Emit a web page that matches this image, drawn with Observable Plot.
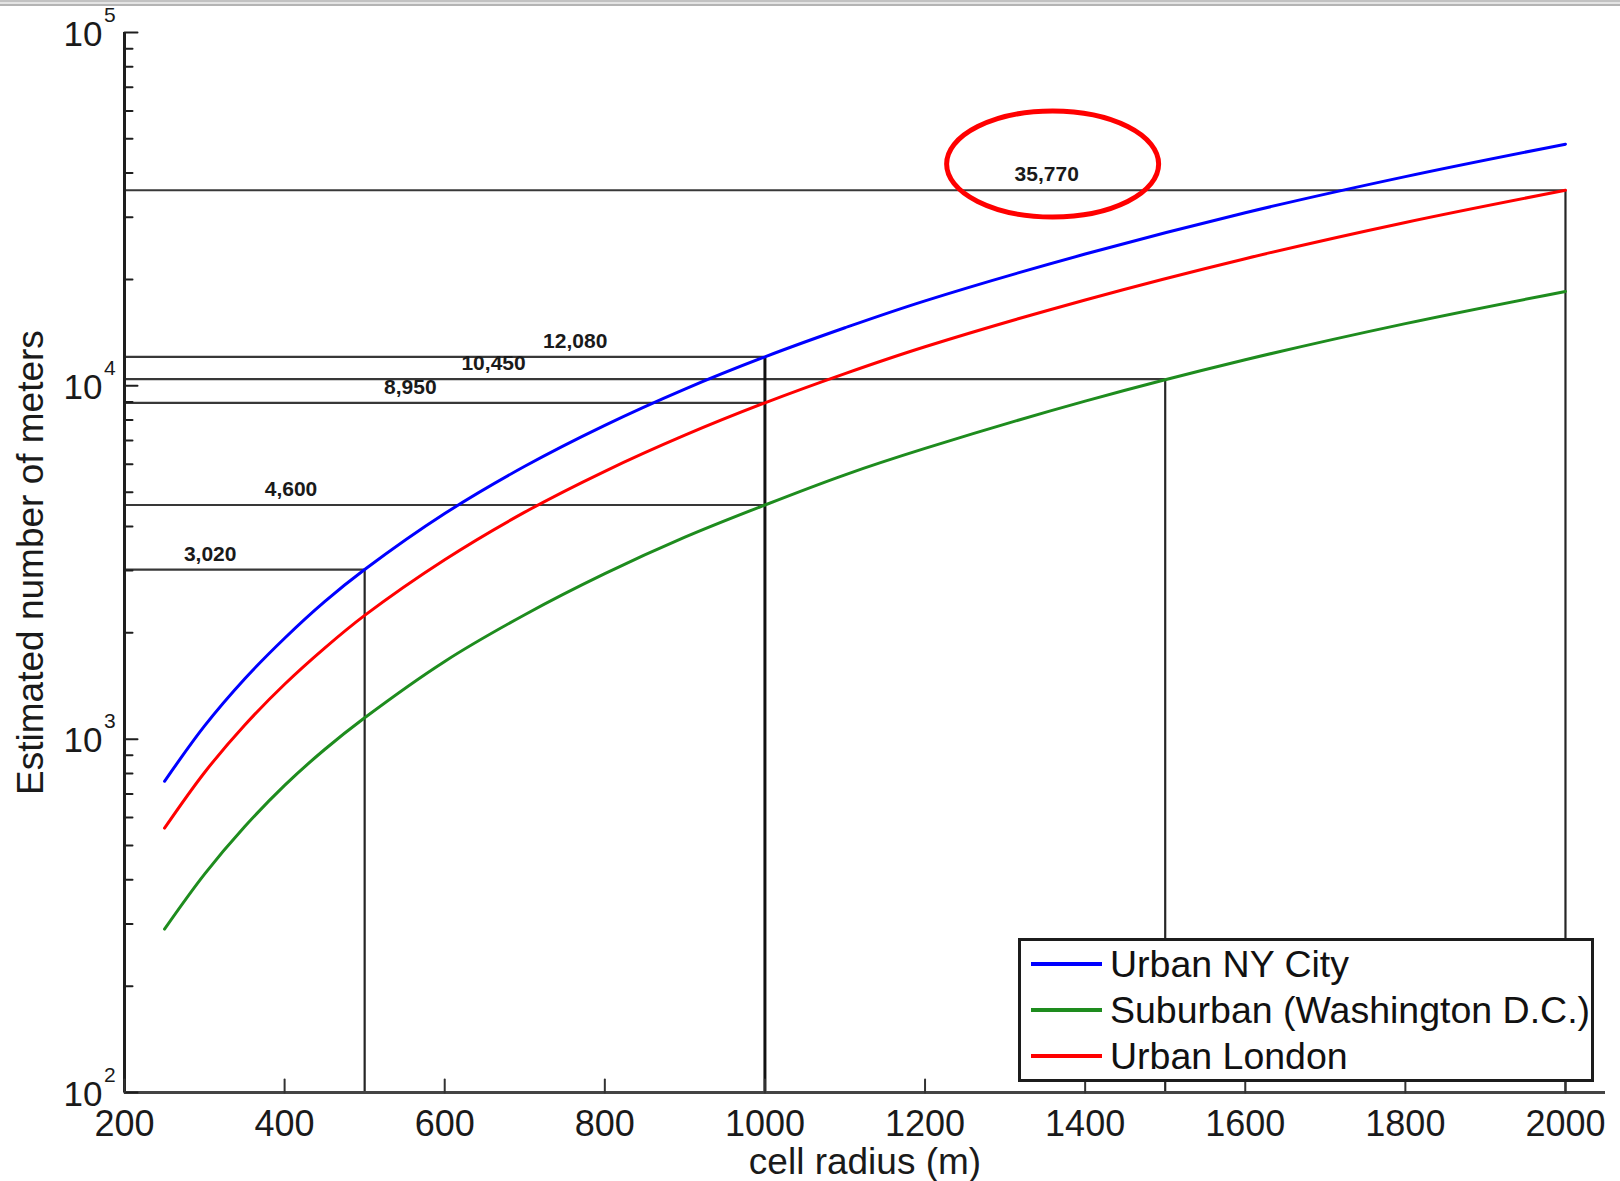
<!DOCTYPE html>
<html>
<head>
<meta charset="utf-8">
<script src="https://cdn.jsdelivr.net/npm/d3@7"></script>
<script src="https://cdn.jsdelivr.net/npm/@observablehq/plot@0.6"></script>
<style>
html, body { margin: 0; padding: 0; background: #fff; }
#wrap { position: relative; width: 1620px; height: 1181px; overflow: hidden; font-family: "Liberation Sans", Arial, sans-serif; }
#topbar { position: absolute; left: 0; top: 0; width: 1620px; height: 8px; z-index: 0;
  background: linear-gradient(#c2c2c2 0, #c2c2c2 2px, #e4e4e4 2px, #e4e4e4 4px, #b4b4b4 4px, #b4b4b4 6px, #ffffff 6px); }
#chart { position: absolute; left: 0; top: 0; z-index: 1; }
#legend { position: absolute; left: 1018px; top: 938px; width: 570px; height: 138px; border: 3px solid #1c1c1c; background: #fff; z-index: 2; }
.row { position: absolute; left: 0; width: 100%; height: 46px; }
.sw { position: absolute; left: 10px; top: 21px; width: 71px; height: 4px; }
.lab { position: absolute; left: 89px; top: 0; line-height: 46px; font-size: 37.5px; color: #111; white-space: nowrap; }
</style>
</head>
<body>
<div id="wrap">
  <div id="topbar"></div>
  <div id="chart"></div>
  <div id="legend"></div>
</div>
<script>
// ---- data ----
const radius      = [250, 300, 350, 400, 450, 500, 600, 700, 800, 900, 1000, 1100, 1200, 1400, 1600, 1800, 2000];
const nyCity      = [760, 1090, 1480, 1930, 2450, 3020, 4350, 5920, 7730, 9790, 12080, 14600, 17400, 23600, 30900, 39100, 48300];
const suburbanDC  = [290, 415, 565, 740, 935, 1150, 1660, 2250, 2940, 3730, 4600, 5600, 6650, 9050, 11850, 15000, 18500];
const london      = [560, 805, 1095, 1430, 1810, 2240, 3220, 4390, 5730, 7250, 8950, 10830, 12900, 17500, 22900, 29000, 35770];

const seriesNames  = ["Urban NY City", "Suburban (Washington D.C.)", "Urban London"];
const seriesColors = ["#0000ff", "#1e8c1e", "#ff0000"];

// annotation guide lines
const markLevels = [35770, 12080, 10450, 8950, 4600, 3020];
const markLabels = ["35,770", "12,080", "10,450", "8,950", "4,600", "3,020"];
const markEnds   = [2000, 1000, 1500, 1000, 1000, 500];
const labelAt    = [1352, 763, 661, 557, 408, 307];
const dropRadius = [500, 1500, 2000];
const dropLevels = [3020, 10450, 35770];
const mainDrop   = [{r: 1000, level: 12080}];
const highlight  = [{r: 1360, level: 42300}];

// axis ticks
const xTicks = [200, 400, 600, 800, 1000, 1200, 1400, 1600, 1800, 2000];
const yMajor = [100, 1000, 10000, 100000];
const yExponents = ["2", "3", "4", "5"];
const yMinor = [200, 300, 400, 500, 600, 700, 800, 900,
                2000, 3000, 4000, 5000, 6000, 7000, 8000, 9000,
                20000, 30000, 40000, 50000, 60000, 70000, 80000, 90000];

// ---- build tables ----
const series = [nyCity, suburbanDC, london];
const rows = [];
series.forEach((vals, k) => radius.forEach((r, i) => rows.push({r, v: vals[i], s: seriesNames[k]})));
const guides = markLevels.map((level, i) => ({level, label: markLabels[i], end: markEnds[i], at: labelAt[i]}));
const drops = dropRadius.map((r, i) => ({r, level: dropLevels[i]}));

const tickShape = { draw(context, l) { context.moveTo(0, 0); context.lineTo(0, -l); } };
const font = "Liberation Sans, Arial, Helvetica, sans-serif";

const ellipseMark = (index, scales) => {
  const h = highlight[0];
  return d3.create("svg:ellipse")
    .attr("cx", scales.x(h.r))
    .attr("cy", scales.y(h.level))
    .attr("rx", 106)
    .attr("ry", 53)
    .attr("fill", "none")
    .attr("stroke", "#ff0000")
    .attr("stroke-width", 5)
    .node();
};

const plot = Plot.plot({
  width: 1620,
  height: 1181,
  marginLeft: 124,
  marginRight: 15,
  marginTop: 32,
  marginBottom: 89,
  x: {domain: [200, 2050], axis: null},
  y: {type: "log", domain: [100, 100000], axis: null},
  color: {domain: seriesNames, range: seriesColors},
  style: {fontFamily: font, background: "transparent", overflow: "visible", color: "#111"},
  marks: [
    // guide lines
    Plot.ruleY(guides, {y: "level", x1: 200, x2: "end", stroke: "#383838", strokeWidth: 2.2}),
    Plot.ruleX(drops, {x: "r", y1: 100, y2: "level", stroke: "#262626", strokeWidth: 2.2}),
    Plot.ruleX(mainDrop, {x: "r", y1: 100, y2: "level", stroke: "#111", strokeWidth: 3}),
    // curves
    Plot.line(rows, {x: "r", y: "v", z: "s", stroke: "s", strokeWidth: 3, curve: "catmull-rom"}),
    // guide labels
    Plot.text(guides, {x: "at", y: "level", text: "label", dy: -9, lineAnchor: "bottom", fontSize: 21, fontWeight: "bold", fill: "#1a1a1a"}),
    // axes lines
    Plot.ruleX([200], {stroke: "#1e1e1e", strokeWidth: 3}),
    Plot.ruleY([100], {stroke: "#444", strokeWidth: 3}),
    // ticks (inward)
    Plot.vector(yMajor, {x: 200, y: d => d, length: 13, rotate: 90, anchor: "start", shape: tickShape, stroke: "#1e1e1e", strokeWidth: 2}),
    Plot.vector(yMinor, {x: 200, y: d => d, length: 8, rotate: 90, anchor: "start", shape: tickShape, stroke: "#1e1e1e", strokeWidth: 2}),
    Plot.vector(xTicks, {x: d => d, y: 100, length: 13, rotate: 0, anchor: "start", shape: tickShape, stroke: "#333", strokeWidth: 2}),
    // tick labels
    Plot.text(xTicks, {x: d => d, y: 100, text: d => String(d), dy: 43, lineAnchor: "bottom", fontSize: 36, fill: "#1a1a1a"}),
    Plot.text(yMajor, {x: 200, y: d => d, text: d => "10", textAnchor: "end", dx: -22, dy: 13, lineAnchor: "bottom", fontSize: 35, fill: "#1a1a1a"}),
    Plot.text(yMajor, {x: 200, y: d => d, text: (d, i) => yExponents[i], textAnchor: "start", dx: -20.5, dy: -11, lineAnchor: "bottom", fontSize: 21, fill: "#1a1a1a"}),
    // axis titles
    Plot.text(["cell radius (m)"], {frameAnchor: "bottom", textAnchor: "middle", text: d => d, dy: 81, lineAnchor: "bottom", fontSize: 37, fill: "#1a1a1a"}),
    Plot.text(["Estimated number of meters"], {frameAnchor: "left", textAnchor: "middle", text: d => d, rotate: -90, dx: -82, lineAnchor: "bottom", fontSize: 37, fill: "#1a1a1a"}),
    // highlight ellipse
    ellipseMark
  ]
});
document.getElementById("chart").appendChild(plot);

// legend (inside the axes, lower right)
const legend = document.getElementById("legend");
seriesNames.forEach((name, i) => {
  const row = document.createElement("div");
  row.className = "row";
  row.style.top = (i * 46) + "px";
  const sw = document.createElement("div");
  sw.className = "sw";
  sw.style.background = seriesColors[i];
  const lab = document.createElement("div");
  lab.className = "lab";
  lab.textContent = name;
  row.appendChild(sw);
  row.appendChild(lab);
  legend.appendChild(row);
});
</script>
</body>
</html>
